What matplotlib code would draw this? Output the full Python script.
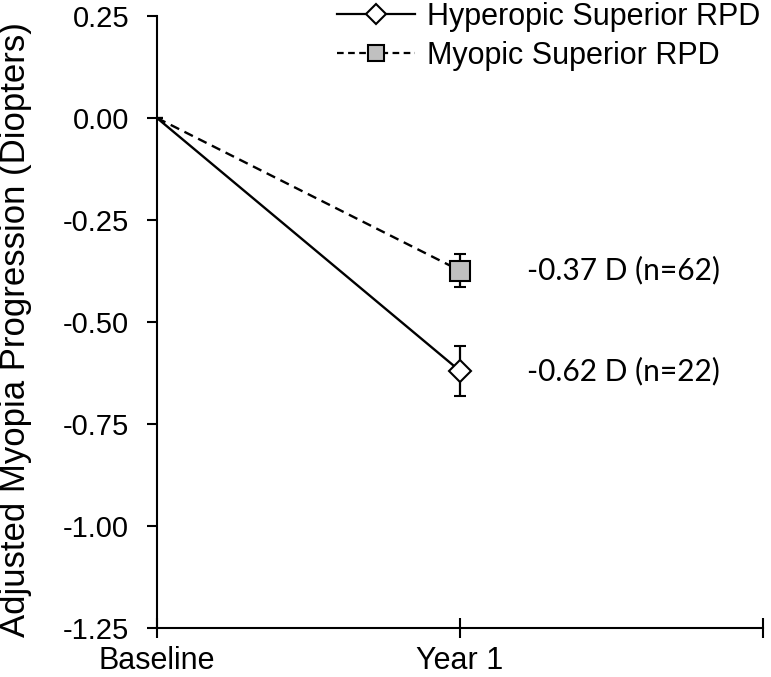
import matplotlib
matplotlib.use("Agg")
import matplotlib.pyplot as plt
from matplotlib.lines import Line2D

plt.rcParams['font.family'] = ['Liberation Sans', 'DejaVu Sans']

categories = ["Baseline", "Year 1"]
x_pos = [0, 1]
hyper_vals = [0.0, -0.62]
hyper_err = [0.0, 0.061]
myopic_vals = [0.0, -0.374]
myopic_err = [0.0, 0.04]
series_labels = ["Hyperopic Superior RPD", "Myopic Superior RPD"]
annot_texts = ["-0.37 D (n=62)", "-0.62 D (n=22)"]
y_ticks = [0.25, 0.00, -0.25, -0.50, -0.75, -1.00, -1.25]

fig = plt.figure(figsize=(7.71, 6.77), dpi=100)
ax = fig.add_axes([157/771, 1 - 628/677, 606/771, 612/677])

ax.errorbar(x_pos, hyper_vals, yerr=[hyper_err, hyper_err],
            color='black', lw=1.7, marker='D', markersize=11,
            markerfacecolor='white', markeredgecolor='black', markeredgewidth=1.5,
            capsize=4.5, capthick=1.6, elinewidth=1.6, markevery=[1], zorder=3)
ax.errorbar(x_pos, myopic_vals, yerr=[myopic_err, myopic_err],
            color='black', lw=1.7, ls='--', dashes=(4, 2.5), marker='s', markersize=14,
            markerfacecolor='#c0c0c0', markeredgecolor='black', markeredgewidth=1.5,
            capsize=4.5, capthick=1.6, elinewidth=1.6, markevery=[1], zorder=3)

ann_x = 1.221
ax.text(ann_x, myopic_vals[1], annot_texts[0], fontsize=21.5, va='center', ha='left',
        family=['Lato', 'DejaVu Sans'])
ax.text(ann_x, hyper_vals[1], annot_texts[1], fontsize=21.5, va='center', ha='left',
        family=['Lato', 'DejaVu Sans'])

ax.set_xlim(0, 2)
ax.set_ylim(-1.25, 0.25)
ax.set_xticks([0, 1, 2])
ax.set_xticklabels(categories + [""], fontsize=22)
ax.set_yticks(y_ticks)
ax.set_yticklabels([f"{v:.2f}" for v in y_ticks], fontsize=21)
ax.tick_params(axis='y', direction='out', length=7, width=1.5, pad=13)
ax.tick_params(axis='x', direction='inout', length=14, width=1.5, pad=6)
for s in ['top', 'right']:
    ax.spines[s].set_visible(False)
for s in ['left', 'bottom']:
    ax.spines[s].set_linewidth(1.5)
ax.set_ylabel("Adjusted Myopia Progression (Diopters)", fontsize=25)
ax.yaxis.set_label_coords(-0.207, 0.487)

handles = [
    Line2D([], [], color='black', lw=1.6, marker='D', markersize=10,
           markerfacecolor='white', markeredgecolor='black', markeredgewidth=1.5),
    Line2D([], [], color='black', lw=1.6, ls='--', dashes=(3, 2), marker='s', markersize=11,
           markerfacecolor='#c0c0c0', markeredgecolor='black', markeredgewidth=1.5),
]
leg = fig.legend(handles, series_labels, loc='upper left',
                 bbox_to_anchor=(337/771, 1 - 2/677), frameon=False,
                 fontsize=22, handlelength=2.55, handletextpad=0.4, labelspacing=0.3,
                 borderpad=0, borderaxespad=0)
fig.savefig("out.png", dpi=100)
